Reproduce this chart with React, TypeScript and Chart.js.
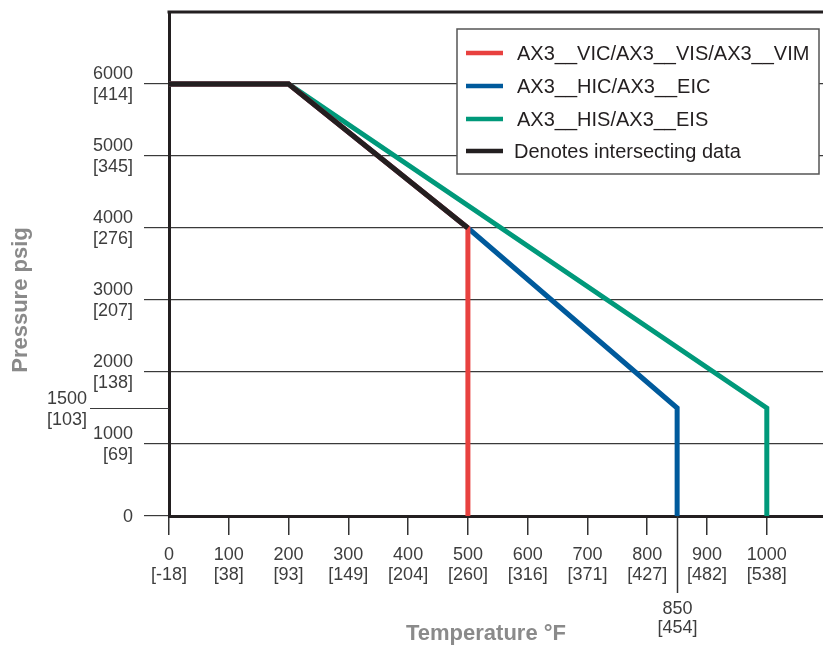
import React, { useEffect, useRef } from "react";
import { Chart, registerables } from "chart.js";

Chart.register(...registerables);

// ---------- data ----------
const seriesLabels = [
  "AX3__VIC/AX3__VIS/AX3__VIM",
  "AX3__HIC/AX3__EIC",
  "AX3__HIS/AX3__EIS",
  "Denotes intersecting data",
];
const seriesColors = ["#E8413F", "#005A9C", "#00997A", "#231F20"];

const redX = [0, 200, 500, 500];
const redY = [6000, 6000, 4000, 0];
const blueX = [0, 200, 500, 850, 850];
const blueY = [6000, 6000, 4000, 1500, 0];
const greenX = [0, 200, 1000, 1000];
const greenY = [6000, 6000, 1500, 0];
const blackX = [0, 200, 500];
const blackY = [6000, 6000, 4000];

const xTickValues = [0, 100, 200, 300, 400, 500, 600, 700, 800, 900, 1000];
const xTickCelsius = ["[-18]", "[38]", "[93]", "[149]", "[204]", "[260]", "[316]", "[371]", "[427]", "[482]", "[538]"];
const yTickValues = [0, 1000, 2000, 3000, 4000, 5000, 6000];
const yTickBar = ["", "[69]", "[138]", "[207]", "[276]", "[345]", "[414]"];
const extraXTick = 850;
const extraXLabel = ["850", "[454]"];
const extraYTick = 1500;
const extraYLabel = ["1500", "[103]"];

const xTitle = "Temperature °F";
const yTitle = "Pressure psig";

const FONT = "'Liberation Sans', Arial, Helvetica, sans-serif";
const TICK_COLOR = "#3d3d3d";
const AXIS_COLOR = "#231F20";
const GRID_COLOR = "#3a3a3a";

const toPoints = (xs: number[], ys: number[]) => xs.map((x, i) => ({ x, y: ys[i] }));

const extrasPlugin = {
  id: "extras",
  afterDraw(chart: any) {
    const ctx = chart.ctx as CanvasRenderingContext2D;
    const xs = chart.scales.x;
    const ys = chart.scales.y;
    const area = chart.chartArea;
    ctx.save();

    // top border
    ctx.strokeStyle = AXIS_COLOR;
    ctx.lineWidth = 3;
    ctx.beginPath();
    ctx.moveTo(area.left - 1.5, area.top);
    ctx.lineTo(chart.width, area.top);
    ctx.stroke();

    // extra y tick (1500)
    const py = Math.round(ys.getPixelForValue(extraYTick)) + 0.5;
    ctx.strokeStyle = GRID_COLOR;
    ctx.lineWidth = 1.2;
    ctx.beginPath();
    ctx.moveTo(90, py);
    ctx.lineTo(area.left, py);
    ctx.stroke();
    ctx.fillStyle = TICK_COLOR;
    ctx.font = `18px ${FONT}`;
    ctx.textAlign = "right";
    ctx.textBaseline = "middle";
    ctx.fillText(extraYLabel[0], 87, py - 9.5);
    ctx.fillText(extraYLabel[1], 87, py + 12);

    // extra x tick (850)
    const px = Math.round(xs.getPixelForValue(extraXTick)) + 0.5;
    ctx.strokeStyle = "#333";
    ctx.lineWidth = 1.5;
    ctx.beginPath();
    ctx.moveTo(px, area.bottom);
    ctx.lineTo(px, area.bottom + 77);
    ctx.stroke();
    ctx.textAlign = "center";
    ctx.fillText(extraXLabel[0], px, area.bottom + 93);
    ctx.fillText(extraXLabel[1], px, area.bottom + 112);

    // axis titles
    ctx.fillStyle = "#8a8a8a";
    ctx.font = `bold 22px ${FONT}`;
    ctx.textAlign = "center";
    ctx.textBaseline = "middle";
    ctx.fillText(xTitle, 486, 634);
    ctx.save();
    ctx.translate(21, 300);
    ctx.rotate(-Math.PI / 2);
    ctx.fillText(yTitle, 0, 0);
    ctx.restore();

    // legend
    const lx = 457, ly = 29, lw = 362, lh = 145;
    ctx.fillStyle = "#ffffff";
    ctx.fillRect(lx, ly, lw, lh);
    ctx.strokeStyle = "#555";
    ctx.lineWidth = 1.5;
    ctx.strokeRect(lx, ly, lw, lh);
    const rowY = [53, 86, 119, 151];
    ctx.font = `20px ${FONT}`;
    ctx.textAlign = "left";
    ctx.textBaseline = "middle";
    chart.data.datasets.forEach((ds: any, i: number) => {
      const y = rowY[i];
      ctx.strokeStyle = ds.borderColor;
      ctx.lineWidth = 4.5;
      ctx.beginPath();
      ctx.moveTo(466, y);
      ctx.lineTo(503, y);
      ctx.stroke();
      ctx.fillStyle = AXIS_COLOR;
      ctx.fillText(ds.label, i === 3 ? 514 : 517, y + 1.5);
    });

    ctx.restore();
  },
};

export default function App() {
  const ref = useRef<HTMLCanvasElement | null>(null);

  useEffect(() => {
    if (!ref.current) return;
    const mk = (i: number, xs: number[], ys: number[], order: number) => ({
      label: seriesLabels[i],
      data: toPoints(xs, ys),
      borderColor: seriesColors[i],
      backgroundColor: seriesColors[i],
      borderWidth: 5,
      pointRadius: 0,
      fill: false,
      tension: 0,
      order,
      clip: 6,
    });
    const chart = new Chart(ref.current, {
      type: "line",
      data: {
        datasets: [
          mk(0, redX, redY, 1),
          mk(1, blueX, blueY, 2),
          mk(2, greenX, greenY, 3),
          mk(3, blackX, blackY, 0),
        ],
      },
      options: {
        responsive: false,
        animation: false,
        devicePixelRatio: 1,
        layout: { padding: { top: 12, left: 0, right: 0, bottom: 0 } },
        plugins: { legend: { display: false }, tooltip: { enabled: false } },
        scales: {
          x: {
            type: "linear",
            min: 0,
            max: 1094,
            afterFit: (s: any) => {
              s.height = 130;
              s.paddingLeft = 0;
              s.paddingRight = 0;
              s.paddingTop = 0;
              s.paddingBottom = 0;
            },
            afterBuildTicks: (s: any) => { s.ticks = xTickValues.map((v) => ({ value: v })); },
            border: { display: true, width: 3, color: AXIS_COLOR },
            grid: { drawOnChartArea: false, drawTicks: true, tickLength: 19, color: "#333", lineWidth: 1.5 },
            ticks: {
              autoSkip: false,
              maxRotation: 0,
              padding: 10,
              color: TICK_COLOR,
              font: { family: FONT, size: 18, lineHeight: "20px" },
              callback: (v: any) => {
                const i = xTickValues.indexOf(Number(v));
                return [String(v), xTickCelsius[i]];
              },
            },
          },
          y: {
            type: "linear",
            min: 0,
            max: 7000,
            afterFit: (s: any) => {
              s.width = 169;
              s.paddingLeft = 0;
              s.paddingRight = 0;
              s.paddingTop = 0;
              s.paddingBottom = 0;
            },
            afterBuildTicks: (s: any) => { s.ticks = yTickValues.map((v) => ({ value: v })); },
            border: { display: true, width: 3, color: AXIS_COLOR },
            grid: { drawOnChartArea: true, drawTicks: true, tickLength: 25, color: GRID_COLOR, lineWidth: 1.2 },
            ticks: {
              autoSkip: false,
              padding: 11,
              labelOffset: 1,
              color: TICK_COLOR,
              font: { family: FONT, size: 18, lineHeight: "21px" },
              callback: (v: any) => {
                const i = yTickValues.indexOf(Number(v));
                return yTickBar[i] ? [String(v), yTickBar[i]] : String(v);
              },
            },
          },
        },
      },
      plugins: [extrasPlugin],
    } as any);
    return () => chart.destroy();
  }, []);

  return (
    <div style={{ position: "absolute", left: 0, top: 0, width: 823, height: 646, background: "#fff" }}>
      <canvas ref={ref} width={823} height={646} style={{ display: "block" }} />
    </div>
  );
}
